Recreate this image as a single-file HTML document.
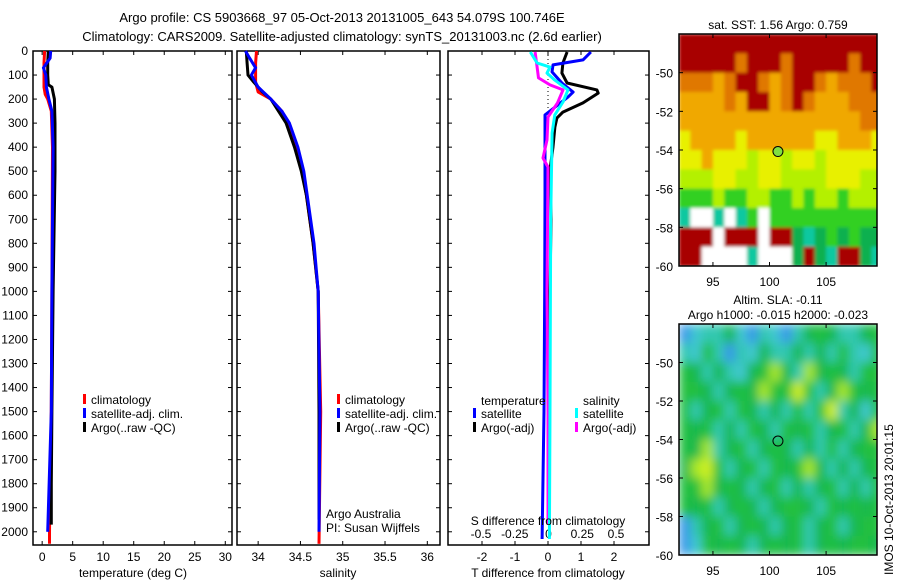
<!DOCTYPE html>
<html><head><meta charset="utf-8">
<style>
html,body{margin:0;padding:0;background:#fff;}
svg{display:block;font-family:"Liberation Sans",sans-serif;}
text{font-size:12px;fill:#000;}
</style></head>
<body>
<svg id="fig" width="900" height="580" viewBox="0 0 900 580" xmlns="http://www.w3.org/2000/svg">
<defs>
<filter id="blurSla" x="0" y="0" width="1" height="1"><feGaussianBlur stdDeviation="5" edgeMode="duplicate"/></filter>
<filter id="blurSst" x="0" y="0" width="1" height="1"><feGaussianBlur stdDeviation="1.5" edgeMode="duplicate"/></filter>
</defs>
<text x="342" y="22" text-anchor="middle" style="font-size:13px">Argo profile: CS 5903668_97 05-Oct-2013 20131005_643 54.079S 100.746E</text>
<text x="342" y="41" text-anchor="middle" style="font-size:13px">Climatology: CARS2009. Satellite-adjusted climatology: synTS_20131003.nc (2.6d earlier)</text>
<g id="layer"></g>
</svg>
<script>
// ---------- data ----------
const depthTicks=[0,100,200,300,400,500,600,700,800,900,1000,1100,1200,1300,1400,1500,1600,1700,1800,1900,2000];
const tempTicks=[0,5,10,15,20,25,30];
const salTicks=[34,34.5,35,35.5,36];
const tdiffTicks=[-2,-1,0,1,2];
const sdiffTicks=[-0.5,-0.25,0,0.25,0.5];
const sdiffLabels=["-0.5","-0.25","0","0.25","0.5"];
const lonTicks=[95,100,105];
const latTicks=[-50,-52,-54,-56,-58,-60];

const tClimD=[0,50,100,150,180,200,250,400,1000,1500,2000,2050];
const tClimV=[0.4,0.3,0.3,0.3,0.5,0.9,1.5,1.7,1.6,1.5,1.2,1.2];
const tSatD=[0,30,70,100,150,200,250,400,1000,1500,1750,2000];
const tSatV=[1.4,1.3,0.2,0.6,0.7,1.1,1.6,1.8,1.6,1.5,1.2,0.9];
const tArgoD=[0,50,100,140,150,200,300,500,1000,1500,1800,1970];
const tArgoV=[1.0,0.9,0.9,1.0,1.6,2.0,2.1,2.1,1.8,1.6,1.5,1.5];

const sClimD=[0,50,130,170,200,250,300,400,500,600,800,1000,1500,2050];
const sClimV=[33.98,33.97,33.97,34.0,34.15,34.28,34.35,34.45,34.52,34.57,34.65,34.71,34.74,34.72];
const sSatD=[0,30,70,100,150,200,250,300,400,500,600,800,1000,1500,2000];
const sSatV=[33.85,33.9,33.97,33.92,34.0,34.15,34.28,34.37,34.47,34.54,34.58,34.66,34.71,34.73,34.72];
const sArgoD=[0,50,100,130,170,200,300,400,500,600,800,1000,1500,1950];
const sArgoV=[33.86,33.87,33.88,33.95,34.05,34.15,34.33,34.43,34.51,34.57,34.65,34.71,34.72,34.72];

const dtSatD=[4,37,58,87,133,171,191,266,600,1000,1500,1750,2030];
const dtSatV=[1.30,1.06,0.15,0.12,0.42,0.76,0.61,-0.09,-0.09,-0.1,-0.12,-0.15,-0.18];
const dtArgoD=[4,50,92,133,162,175,216,254,279,316,399,495,700,1000,1500,1970];
const dtArgoV=[0.58,0.45,0.42,0.58,1.48,1.52,1.06,0.45,0.27,0.21,0.15,0.06,0.09,0.06,0.03,0];
const dsSatD=[4,50,67,92,121,162,212,266,341,700,1500,2030];
const dsSatV=[-0.13,-0.08,0.015,-0.007,0.05,0.147,0.11,0.05,0.03,0.02,0.015,0.01];
const dsArgoD=[4,67,112,141,162,216,275,370,445,483,1000,1500,1970];
const dsArgoV=[-0.095,-0.08,-0.07,0.015,0.11,0.07,0,-0.007,-0.037,0,-0.007,0,0];

// SST map grid (rows lat -48..-60, cols lon 92..110, 1 degree)
const sstGrid=[
"RRRRRRRRRRRRRRRRRR",
"RRRRRoRRRoRRRRRoRR",
"oooOoRRoOoRRoOoooR",
"OOOOoORROoRoOOOooo",
"OOOOOOOOOOOOOOOOoo",
"YOOOOYOOOOOOYYOOOY",
"YYOYYYLYYLYYLYYYYY",
"LLLYYLLYYLLLLYYYLL",
"GGGLGGLLGGLGLLGLLL",
"T..T.TG.GGGGGGGGGG",
"RRR.RRR.RRgTgGgGgg",
"RR....T...gRgTRRgT"];
const slaGrid=[
"BcCCgcBCcBCgGgCCgG",
"CcGCBCcgCCgCgCGCcG",
"GgCgCcgGYgCYgGgCGG",
"GGgCgGgYGGyGCgYGgG",
"GCgGCGgCgCGCGyCgcG",
"GgGCgCGgCGgGCgGCgY",
"GgYCgGCgGgCgCGCgGG",
"gYyGCgGCGgGYgCgCgG",
"GGYgGgCgGCgCgGCgCG",
"GgGCgGgCgGGgCGgGgG",
"BCgGCgGgCgGCgGCgGG",
"BcGgGgCgGgGCgGgGGg"];
const argoLon=100.746, argoLat=-54.079;

// ---------- drawing ----------
const NS="http://www.w3.org/2000/svg";
const L=document.getElementById('layer');
function el(tag,attrs,parent){const e=document.createElementNS(NS,tag);for(const k in attrs)e.setAttribute(k,attrs[k]);(parent||L).appendChild(e);return e;}
function txt(x,y,s,anchor,parent){const t=el('text',{x:x,y:y,'text-anchor':anchor||'start'},parent);t.textContent=s;return t;}

const PT=51, PB=545, D0=0, D1=2055;
function yD(d){return PT+(d-D0)/(D1-D0)*(PB-PT);}
function lin(a0,a1,p0,p1){return v=>p0+(v-a0)/(a1-a0)*(p1-p0);}

const panels=[
 {name:'temperature-panel',x0:33,x1:232,sx:lin(-1.5,31.1,33,232)},
 {name:'salinity-panel',x0:237,x1:440,sx:lin(33.75,36.15,237,440)},
 {name:'difference-panel',x0:448,x1:649,sx:lin(-3.03,3.06,448,649)}
];
panels.forEach((p,i)=>{
  const g=el('g',{});
  
  
  el('rect',{x:p.x0,y:PT,width:p.x1-p.x0,height:PB-PT,fill:'none',stroke:'#000','stroke-width':1.5},g);
  p.g=g;
  depthTicks.forEach(d=>{
    const y=yD(d);
    el('line',{x1:p.x0,x2:p.x0+4,y1:y,y2:y,stroke:'#000'},g);
    el('line',{x1:p.x1,x2:p.x1-4,y1:y,y2:y,stroke:'#000'},g);
    if(i===0){const t=txt(28,y+4,String(d),'end',g);}
  });
});

function xTicks(p,ticks,labels,ly,top){
  ticks.forEach((v,k)=>{
    const x=p.sx(v);
    el('line',{x1:x,x2:x,y1:PB,y2:PB-4,stroke:'#000'},p.g);
    if(top!==false) el('line',{x1:x,x2:x,y1:PT,y2:PT+4,stroke:'#000'},p.g);
    const t=txt(x,ly,labels?labels[k]:String(v),'middle',p.g);
    
    
  });
}
xTicks(panels[0],tempTicks,null,561);
xTicks(panels[1],salTicks,null,561);
xTicks(panels[2],tdiffTicks,null,561);
const sdx=lin(-0.5,0.5,481,616);
sdiffTicks.forEach((v,k)=>{const t=txt(sdx(v),538,sdiffLabels[k],'middle',panels[2].g);});

function title(x,y,s,name,parent){const t=txt(x,y,s,'middle',parent);return t;}
title(133,577,'temperature (deg C)','temperature-axis-title');
title(338,577,'salinity','salinity-axis-title');
title(548,577,'T difference from climatology','t-diff-axis-title');
title(548,525,'S difference from climatology','s-diff-axis-title');

function series(p,ds,vs,sx,color,name,w){
  let d='';
  ds.forEach((dv,k)=>{d+=(k?'L':'M')+sx(vs[k]).toFixed(1)+','+yD(dv).toFixed(1);});
  const path=el('path',{d:d,fill:'none',stroke:color,'stroke-width':w||3,'stroke-linejoin':'round'},p.g);
  
  
}
const P1=panels[0],P2=panels[1],P3=panels[2];
series(P1,tClimD,tClimV,P1.sx,'#f00','temp-climatology');
series(P1,tArgoD,tArgoV,P1.sx,'#000','temp-argo');
series(P1,tSatD,tSatV,P1.sx,'#00f','temp-satellite-adj');
series(P2,sClimD,sClimV,P2.sx,'#f00','sal-climatology');
series(P2,sArgoD,sArgoV,P2.sx,'#000','sal-argo');
series(P2,sSatD,sSatV,P2.sx,'#00f','sal-satellite-adj');
const dsx=lin(-0.5,0.5,480,616);
el('line',{x1:P3.sx(0),x2:P3.sx(0),y1:PT,y2:yD(280),stroke:'#000','stroke-dasharray':'1,3'},P3.g);
series(P3,dtArgoD,dtArgoV,P3.sx,'#000','tdiff-argo');
series(P3,dtSatD,dtSatV,P3.sx,'#00f','tdiff-satellite');
series(P3,dsArgoD,dsArgoV,dsx,'#f0f','sdiff-argo');
series(P3,dsSatD,dsSatV,dsx,'#0ff','sdiff-satellite');

function legend(x,y,color,label,parent){
  const g=el('g',{},parent);
  
  
  el('rect',{x:x,y:y-10,width:3,height:10,fill:color},g);
  txt(x+8,y,label,'start',g);
}
legend(83,404,'#f00','climatology',P1.g);
legend(83,418,'#00f','satellite-adj. clim.',P1.g);
legend(83,432,'#000','Argo(..raw -QC)',P1.g);
legend(337,404,'#f00','climatology',P2.g);
legend(337,418,'#00f','satellite-adj. clim.',P2.g);
legend(337,432,'#000','Argo(..raw -QC)',P2.g);
txt(481,405,'temperature','start',P3.g);
txt(583,405,'salinity','start',P3.g);
legend(473,418,'#00f','satellite',P3.g);
legend(473,432,'#000','Argo(-adj)',P3.g);
legend(575,418,'#0ff','satellite',P3.g);
legend(575,432,'#f0f','Argo(-adj)',P3.g);
txt(326,518,'Argo Australia','start',P2.g);
txt(326,532,'PI: Susan Wijffels','start',P2.g);

// ---------- maps ----------
const sstCol={R:'#a80000',o:'#e07800',O:'#f0a800',Y:'#e8f000',L:'#b4f000',G:'#30d020',g:'#10b050',T:'#10c8a0','.':'#ffffff'};
const slaCol={G:'#20c040',g:'#18b850',C:'#30c8b0',c:'#40c8d0',B:'#3898e8',Y:'#a8e828',y:'#d0f020'};
function map(name,top,bot,grid,cols,circleFill,filt,t1,t2){
  const g=el('g',{});
  
  
  const mx=lin(92,109.5,679,877), my=lin(-48,-60,top,bot);
  const cp='clip-'+name;
  const cl=el('clipPath',{id:cp},g);
  el('rect',{x:679,y:top,width:198,height:bot-top},cl);
  const outer=el('g',{'clip-path':'url(#'+cp+')'},g);
  const cg=el('g',{filter:'url(#'+filt+')'},outer);
  grid.forEach((row,r)=>{
    for(let c=0;c<row.length;c++){
      const x0=mx(92+c),x1=mx(93+c),y0=my(-48-r),y1=my(-49-r);
      const cell=el('rect',{x:x0,y:y0,width:x1-x0+0.5,height:y1-y0+0.5,fill:cols[row[c]]},cg);
      
      
    }
  });
  el('rect',{x:679,y:top,width:198,height:bot-top,fill:'none',stroke:'#000','stroke-width':1.5},g);
  lonTicks.forEach(v=>{const x=mx(v);el('line',{x1:x,x2:x,y1:bot,y2:bot-4,stroke:'#000'},g);el('line',{x1:x,x2:x,y1:top,y2:top+4,stroke:'#000'},g);
    const t=txt(x,bot+20,String(v),'middle',g);});
  latTicks.forEach(v=>{const y=my(v);el('line',{x1:679,x2:683,y1:y,y2:y,stroke:'#000'},g);el('line',{x1:877,x2:873,y1:y,y2:y,stroke:'#000'},g);
    const t=txt(673,y+5,String(v),'end',g);});
  const c=el('circle',{cx:mx(argoLon),cy:my(argoLat),r:5,fill:circleFill,stroke:'#000'},g);
  
  
  if(t1){title(778,top-5-(t2?15:0),t1,name+'-title',g);}
  if(t2){title(778,top-5,t2,name+'-subtitle',g);}
}
map('sst-map',34,266,sstGrid,sstCol,'#80e040','blurSst','sat. SST: 1.56 Argo: 0.759');
map('sla-map',324,555,slaGrid,slaCol,'none','blurSla','Altim. SLA: -0.11','Argo h1000: -0.015 h2000: -0.023');
const im=txt(0,0,'IMOS 10-Oct-2013 20:01:15','start');
im.setAttribute('transform','translate(893,575) rotate(-90)');


</script>
</body></html>
